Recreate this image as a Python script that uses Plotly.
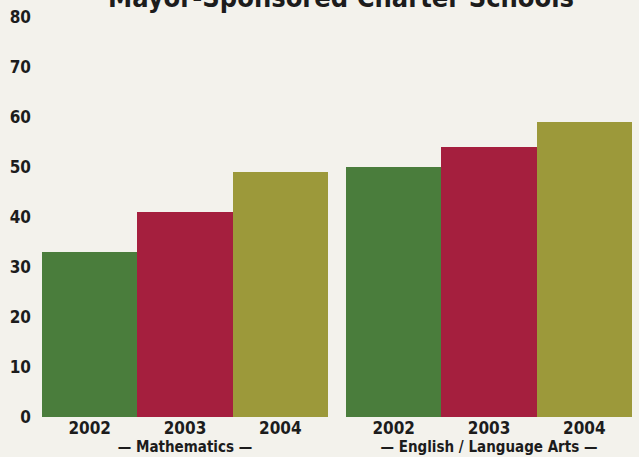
import plotly.graph_objects as go

# Percent of students meeting standards, by subject and year
years = ["2002", "2003", "2004"]
math_scores = [33, 41, 49]
ela_scores = [50, 54, 59]
subjects = ["— Mathematics —", "— English / Language Arts —"]
y_ticks = [0, 10, 20, 30, 40, 50, 60, 70, 80]

bar_colors = ["#4a7d3c", "#a51f3e", "#9c993a"]
bg = "#f3f2ec"
ink = "#1c1c1c"
font_family = "DejaVu Sans Condensed, Liberation Sans Narrow, sans-serif"

fig = go.Figure()
fig.add_trace(go.Bar(x=years, y=math_scores, marker=dict(color=bar_colors, line=dict(width=0)),
                     xaxis="x", yaxis="y", showlegend=False, hoverinfo="x+y"))
fig.add_trace(go.Bar(x=years, y=ela_scores, marker=dict(color=bar_colors, line=dict(width=0)),
                     xaxis="x2", yaxis="y2", showlegend=False, hoverinfo="x+y"))

tick_font = dict(family=font_family, size=17, color=ink, weight="bold")
title_font = dict(family=font_family, size=15, color=ink, weight="bold")

xcommon = dict(showgrid=False, zeroline=False, showline=False, ticks="",
               tickfont=tick_font, automargin=False, fixedrange=True, ticklabelstandoff=-1)
fig.update_layout(
    width=639, height=457,
    margin=dict(l=42, r=7, t=17, b=40),
    paper_bgcolor=bg, plot_bgcolor=bg,
    bargap=0,
    font=dict(family=font_family, color=ink),
    xaxis=dict(domain=[0, 0.4847], title=dict(text=subjects[0], font=title_font, standoff=0), **xcommon),
    xaxis2=dict(domain=[0.5153, 1], anchor="y2", title=dict(text=subjects[1], font=title_font, standoff=0), **xcommon),
    yaxis=dict(range=[0, 80], tickvals=y_ticks, showgrid=False, zeroline=False, showline=False,
               ticks="", tickfont=tick_font, ticklabelstandoff=10, automargin=False, fixedrange=True),
    yaxis2=dict(range=[0, 80], anchor="x2", matches="y", showticklabels=False, showgrid=False,
                zeroline=False, showline=False, fixedrange=True),
    annotations=[dict(text="Mayor-Sponsored Charter Schools", xref="paper", yref="paper",
                      x=0.507, y=1, xanchor="center", yanchor="bottom", yshift=2, showarrow=False,
                      font=dict(family=font_family, size=27, color=ink, weight="bold"))],
)

fig.write_html("out.html")
